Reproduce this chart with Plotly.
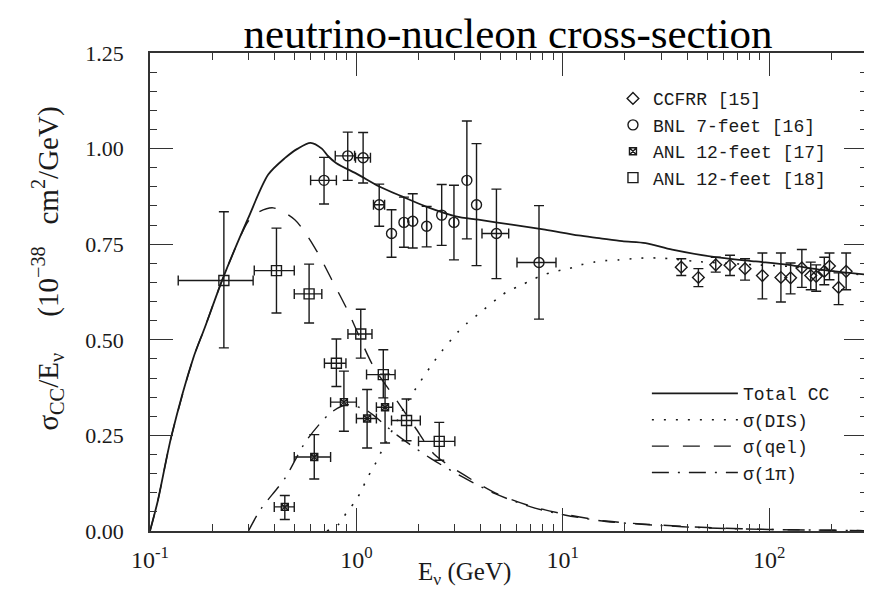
import plotly.graph_objects as go

# ---------------- data ----------------
# Total CC curve
total_E = [0.1, 0.109, 0.127, 0.162, 0.184, 0.226, 0.299, 0.374, 0.45, 0.52, 0.6, 0.68, 0.73,
           0.8, 1.02, 1.29, 1.66, 2.16, 3.03, 3.9, 5.66, 8.2, 11.9, 15.0, 19.4, 25.2, 33.9,
           55, 86, 124, 180, 300]
total_s = [0.0, 0.078, 0.248, 0.452, 0.531, 0.662, 0.818, 0.932, 0.975, 1.0, 1.015, 1.0, 0.98,
           0.962, 0.932, 0.901, 0.875, 0.849, 0.823, 0.814, 0.801, 0.788, 0.773, 0.766, 0.758,
           0.753, 0.736, 0.716, 0.705, 0.696, 0.683, 0.670]

# sigma(DIS)
dis_E = [0.72, 0.83, 0.9, 0.99, 1.06, 1.13, 1.22, 1.3, 1.72, 2.02, 2.37, 2.59, 3.1, 3.45, 3.9,
         4.8, 5.45, 6.2, 7.1, 8.1, 9.2, 10.7, 12.2, 14.1, 16.1, 18.8, 21.8, 24.8, 28.6, 33,
         44, 86, 124, 300]
dis_s = [0.0, 0.02, 0.05, 0.078, 0.107, 0.139, 0.17, 0.2, 0.327, 0.387, 0.442, 0.47, 0.52,
         0.544, 0.567, 0.607, 0.628, 0.641, 0.657, 0.67, 0.679, 0.686, 0.696, 0.703, 0.707,
         0.709, 0.712, 0.714, 0.714, 0.712, 0.705, 0.696, 0.692, 0.668]

# sigma(qel)
qel_E = [0.1, 0.109, 0.127, 0.162, 0.184, 0.226, 0.299, 0.33, 0.395, 0.503, 0.63, 0.76, 0.91,
         1.21, 1.56, 1.93, 2.39, 3.34, 4.73, 7.0, 10.2, 16.2, 28.5, 50, 100, 300]
qel_s = [0.0, 0.078, 0.248, 0.452, 0.531, 0.662, 0.81, 0.832, 0.845, 0.814, 0.74, 0.657, 0.575,
         0.43, 0.343, 0.27, 0.20, 0.146, 0.099, 0.065, 0.044, 0.026, 0.016, 0.009, 0.004, 0.001]

# sigma(1pi)
pi_E = [0.3, 0.342, 0.452, 0.57, 0.75, 0.9, 1.12, 1.58, 2.29, 3.3, 4.73, 7.0, 10.2, 16.2,
        28.5, 50, 100, 300]
pi_s = [0.0, 0.055, 0.139, 0.235, 0.309, 0.33, 0.315, 0.25, 0.19, 0.14, 0.097, 0.063, 0.042,
        0.025, 0.015, 0.008, 0.004, 0.001]

# CCFRR [15]
ccfrr_E = [37.5, 45.4, 55.1, 64.6, 76.4, 92.7, 114, 127, 144, 159, 169, 185, 196, 217, 236]
ccfrr_s = [0.690, 0.663, 0.696, 0.695, 0.686, 0.668, 0.663, 0.662, 0.688, 0.668, 0.666, 0.679,
           0.693, 0.637, 0.679]
ccfrr_hi = [0.712, 0.686, 0.716, 0.721, 0.712, 0.727, 0.727, 0.701, 0.736, 0.703, 0.696, 0.716,
            0.727, 0.675, 0.727]
ccfrr_lo = [0.668, 0.639, 0.677, 0.668, 0.656, 0.607, 0.599, 0.620, 0.637, 0.631, 0.627, 0.644,
            0.657, 0.592, 0.631]

# BNL 7-feet [16]
bnl_E = [0.697, 0.908, 1.078, 1.29, 1.48, 1.70, 1.875, 2.19, 2.59, 2.97, 3.43, 3.82, 4.77, 7.67]
bnl_s = [0.917, 0.981, 0.976, 0.853, 0.778, 0.807, 0.810, 0.797, 0.826, 0.807, 0.917, 0.853,
         0.778, 0.702]
bnl_hi = [0.977, 1.043, 1.042, 0.907, 0.840, 0.873, 0.882, 0.849, 0.906, 0.904, 1.072, 1.013,
          0.894, 0.851]
bnl_lo = [0.855, 0.917, 0.910, 0.797, 0.716, 0.742, 0.740, 0.743, 0.747, 0.709, 0.764, 0.694,
          0.660, 0.554]
bnl_Elo = [0.60, 0.79, 0.99, 1.21, 1.48, 1.70, 1.875, 2.19, 2.59, 2.97, 3.43, 3.82, 4.06, 6.0]
bnl_Ehi = [0.80, 0.98, 1.17, 1.37, 1.48, 1.70, 1.875, 2.19, 2.59, 2.97, 3.43, 3.82, 5.47, 9.27]

# ANL 12-feet [17]
anl17_E = [0.45, 0.625, 0.87, 1.127, 1.377]
anl17_s = [0.063, 0.1935, 0.337, 0.294, 0.3235]
anl17_hi = [0.093, 0.252, 0.418, 0.370, 0.41]
anl17_lo = [0.030, 0.136, 0.261, 0.217, 0.23]
anl17_Elo = [0.40, 0.50, 0.75, 1.0, 1.25]
anl17_Ehi = [0.50, 0.75, 1.0, 1.25, 1.5]

# ANL 12-feet [18]
anl18_E = [0.228, 0.41, 0.59, 0.80, 1.05, 1.35, 1.75, 2.52]
anl18_s = [0.655, 0.681, 0.620, 0.4385, 0.515, 0.409, 0.289, 0.2345]
anl18_hi = [0.835, 0.792, 0.698, 0.502, 0.580, 0.474, 0.345, 0.284]
anl18_lo = [0.479, 0.570, 0.544, 0.378, 0.452, 0.348, 0.236, 0.185]
anl18_Elo = [0.137, 0.32, 0.50, 0.70, 0.91, 1.12, 1.48, 2.0]
anl18_Ehi = [0.316, 0.50, 0.68, 0.89, 1.19, 1.54, 2.04, 3.0]

x_tickvals = [0.1, 1, 10, 100]
x_ticktext = ["10<sup>-1</sup>", "10<sup>0</sup>", "10<sup>1</sup>", "10<sup>2</sup>"]
y_tickvals = [0.0, 0.25, 0.5, 0.75, 1.0, 1.25]
y_ticktext = ["0.00", "0.25", "0.50", "0.75", "1.00", "1.25"]

# ---------------- figure ----------------
INK = "#1a1a1a"
fig = go.Figure()


def curve(E, s, name, dash, width):
    fig.add_trace(go.Scatter(
        x=E, y=s, name=name, mode="lines", legend="legend2",
        line=dict(color=INK, width=width, dash=dash, shape="spline", smoothing=0.8),
        hoverinfo="skip"))


curve(total_E, total_s, "Total CC", "solid", 1.8)
curve(dis_E, dis_s, "σ(DIS)", "2px,10px", 1.6)
curve(qel_E, qel_s, "σ(qel)", "17px,14px", 1.4)
curve(pi_E, pi_s, "σ(1π)", "17px,9px,2px,9px", 1.4)


def points(E, s, hi, lo, name, symbol, size, Elo=None, Ehi=None):
    ex = None
    if Elo is not None:
        ex = dict(type="data", symmetric=False,
                  array=[h - e for h, e in zip(Ehi, E)],
                  arrayminus=[e - l for e, l in zip(E, Elo)],
                  color=INK, thickness=1.4, width=5)
    fig.add_trace(go.Scatter(
        x=E, y=s, name=name, mode="markers", legend="legend",
        marker=dict(symbol=symbol, size=size, color=INK,
                    line=dict(color=INK, width=1.4)),
        error_y=dict(type="data", symmetric=False,
                     array=[h - v for h, v in zip(hi, s)],
                     arrayminus=[v - l for v, l in zip(s, lo)],
                     color=INK, thickness=1.4, width=5),
        error_x=ex))


points(ccfrr_E, ccfrr_s, ccfrr_hi, ccfrr_lo, "CCFRR [15]", "diamond-open", 9)
points(bnl_E, bnl_s, bnl_hi, bnl_lo, "BNL 7-feet [16]", "circle-open", 10, bnl_Elo, bnl_Ehi)
points(anl17_E, anl17_s, anl17_hi, anl17_lo, "ANL 12-feet [17]", "square-x-open", 7,
       anl17_Elo, anl17_Ehi)
points(anl18_E, anl18_s, anl18_hi, anl18_lo, "ANL 12-feet [18]", "square-open", 10,
       anl18_Elo, anl18_Ehi)

axis_common = dict(
    showgrid=False, zeroline=False, showline=True, linecolor="#333", linewidth=1.6,
    mirror="allticks", ticks="inside", ticklen=23, tickwidth=1.3, tickcolor="#333",
)

fig.update_layout(
    width=872, height=589,
    margin=dict(l=142, r=13, t=45, b=66),
    paper_bgcolor="white", plot_bgcolor="white",
    showlegend=True,
    title=dict(text="neutrino-nucleon cross-section", x=0.5735, xref="container",
               xanchor="center", y=0.958, yref="container", yanchor="middle",
               font=dict(family="Liberation Serif", size=43, color="black")),
    xaxis=dict(type="log", range=[-1, 2.474], tickvals=x_tickvals, ticktext=x_ticktext,
               ticklabelstandoff=6,
               tickfont=dict(family="Liberation Serif", size=24, color=INK),
               minor=dict(ticks="inside", ticklen=7, tickwidth=1.2, tickcolor="#333",
                          dtick="D1", showgrid=False),
               **axis_common),
    yaxis=dict(range=[0, 1.25], tickvals=y_tickvals, ticktext=y_ticktext,
               ticklabelstandoff=20,
               tickfont=dict(family="Liberation Serif", size=22, color=INK),
               minor=dict(ticks="inside", ticklen=7, tickwidth=1.2, tickcolor="#333",
                          dtick=0.05, showgrid=False),
               **axis_common),
    legend=dict(x=0.6457, y=0.943, xanchor="left", yanchor="top", bgcolor="rgba(0,0,0,0)",
                font=dict(family="Liberation Mono", size=18, color=INK),
                itemwidth=30, tracegroupgap=0),
    legend2=dict(x=0.693, y=0.326, xanchor="left", yanchor="top", bgcolor="rgba(0,0,0,0)",
                 font=dict(family="Liberation Mono", size=18, color=INK),
                 itemwidth=86, tracegroupgap=0),
    annotations=[
        dict(text="σ<sub>CC</sub>/E<sub>ν</sub>\u00a0\u00a0\u00a0\u00a0\u00a0(10<sup>−38</sup>\u00a0\u00a0\u00a0cm<sup>2</sup>/GeV)",
             xref="paper", yref="paper", x=-0.143, y=0.55, xanchor="center", yanchor="middle",
             textangle=-90, showarrow=False,
             font=dict(family="Liberation Serif", size=29, color=INK)),
        dict(text="E<sub>ν</sub> (GeV)", xref="paper", yref="paper", x=0.439, y=-0.088,
             xanchor="center", yanchor="middle", showarrow=False,
             font=dict(family="Liberation Serif", size=25, color=INK)),
    ],
)

fig.write_html("out.html")
